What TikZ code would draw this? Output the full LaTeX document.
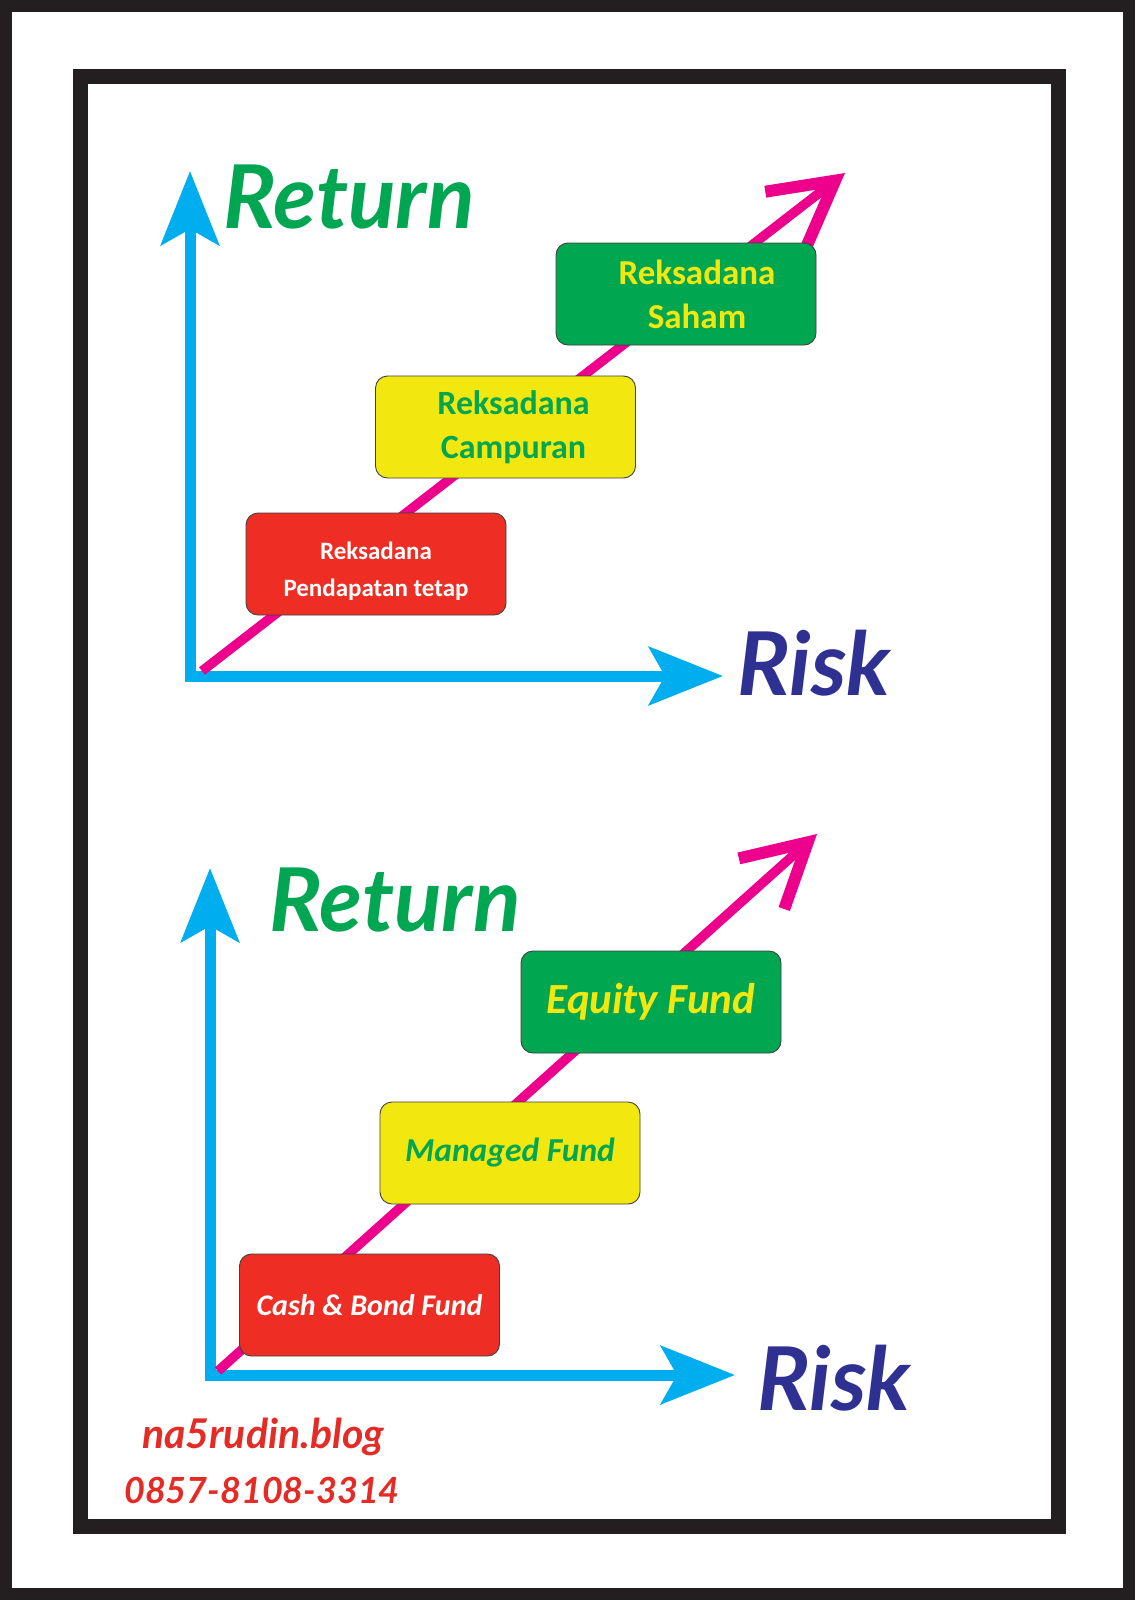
\documentclass[tikz,border=0pt]{standalone}
\usepackage{fontspec}
\setmainfont{Carlito}
\newfontfamily\scriptfam{Lato}
\usetikzlibrary{arrows.meta}
\definecolor{axisblue}{HTML}{00AEEF}
\definecolor{mag}{HTML}{EC008C}
\definecolor{boxred}{HTML}{EE2E24}
\definecolor{boxyellow}{HTML}{F2E80F}
\definecolor{boxgreen}{HTML}{00A650}
\definecolor{txtgreen}{HTML}{00A651}
\definecolor{txtyellow}{HTML}{F2E80F}
\definecolor{riskblue}{HTML}{2E3192}
\definecolor{framecol}{HTML}{231F20}
\definecolor{footred}{HTML}{E42B26}
\begin{document}
\begin{tikzpicture}[x=1pt,y=-1pt,
  axis/.style={draw=axisblue, line width=11pt, line join=miter,
    {Stealth[length=74pt,width=58pt,inset=16pt]}-{Stealth[length=74pt,width=58pt,inset=16pt]}},
  trend/.style={draw=mag, line width=9.5pt, -{Straight Barb[length=62pt,width=68pt,line width=12pt]}},
  fundbox/.style={rounded corners=12pt, draw=black!75, line width=0.9pt,
    minimum width=260pt, minimum height=102pt, align=center, inner sep=0pt},
  axlabel/.style={font=\scriptfam\bfseries\itshape\fontsize{88}{88}\selectfont},
  foot/.style={text=footred}
]
\useasboundingbox (0,0) rectangle (1135,1600);
\fill[white] (0,0) rectangle (1135,1600);
% frames
\draw[framecol, line width=12pt] (6,6) rectangle (1129,1594);
\draw[framecol, line width=15pt] (80.5,76.5) rectangle (1058.5,1526);

% ---------- upper chart ----------
\coordinate (o1) at (190,676);
\coordinate (y1) at (190,171);
\coordinate (x1) at (723,676);
\draw[axis] (y1) -- (o1) -- (x1);
\coordinate (m1s) at (202,671);
\coordinate (m1e) at (845,173);
\draw[trend] (m1s) -- (m1e);
\node[axlabel, text=txtgreen] (ret1) at (349,197) {Return};
\node[axlabel, text=riskblue] (risk1) at (814,663) {Risk};

\node[fundbox, fill=boxred, text=white,
  font=\fontsize{25}{37}\selectfont\bfseries] (rd1) at (376,564) {\rule{0pt}{32pt}Reksadana\\Pendapatan tetap};
\node[fundbox, fill=boxyellow, text=txtgreen,
  font=\fontsize{34}{44}\selectfont\bfseries] (rd2) at (505.5,427) {\hspace*{16pt}Reksadana\\\hspace*{16pt}Campuran};
\node[fundbox, fill=boxgreen, text=txtyellow,
  font=\fontsize{35}{44}\selectfont\bfseries] (rd3) at (686,294) {\hspace*{22pt}Reksadana\\\hspace*{22pt}Saham};

% ---------- lower chart ----------
\coordinate (o2) at (210,1375);
\coordinate (y2) at (210,868);
\coordinate (x2) at (735,1375);
\draw[axis] (y2) -- (o2) -- (x2);
\coordinate (m2s) at (218,1371);
\coordinate (m2e) at (817,834);
\draw[trend] (m2s) -- (m2e);
\node[axlabel, text=txtgreen] (ret2) at (395,900) {Return};
\node[axlabel, text=riskblue] (risk2) at (834,1378) {Risk};

\node[fundbox, fill=boxred, text=white,
  font=\fontsize{30}{34}\selectfont\bfseries\itshape] (cb) at (369.5,1305) {Cash \& Bond Fund};
\node[fundbox, fill=boxyellow, text=txtgreen,
  font=\fontsize{33.5}{38}\selectfont\bfseries\itshape] (mf) at (510,1153) {Managed Fund};
\node[fundbox, fill=boxgreen, text=txtyellow,
  font=\fontsize{43}{48}\selectfont\bfseries\itshape] (ef) at (651,1002) {Equity Fund};

% ---------- footer ----------
\node[foot, font=\scriptfam\bfseries\itshape\fontsize{41}{41}\selectfont] (blog) at (263,1437) {na5rudin.blog};
\node[foot, font=\scriptfam\bfseries\itshape\fontsize{36}{36}\selectfont] (phone) at (262,1490) {0857-8108-3314};
\end{tikzpicture}
\end{document}
